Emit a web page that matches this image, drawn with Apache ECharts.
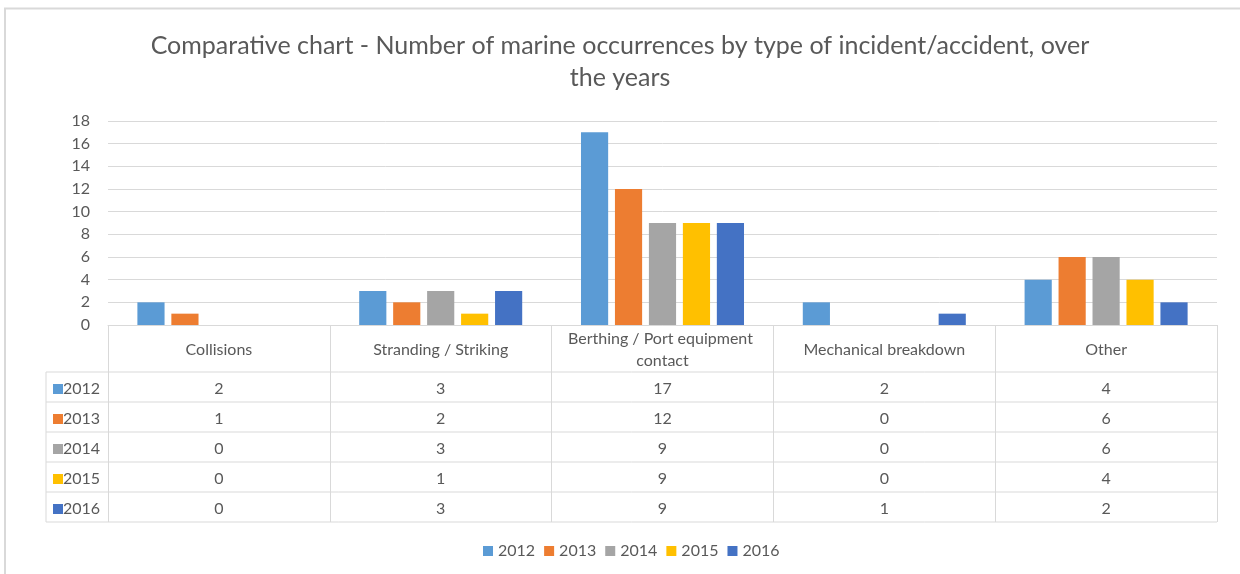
<!DOCTYPE html>
<html>
<head>
<meta charset="utf-8">
<script src="https://cdn.jsdelivr.net/npm/echarts@6/dist/echarts.min.js"></script>
<style>
  html, body { margin: 0; padding: 0; background: #ffffff; }
  #chart { width: 1240px; height: 574px; }
</style>
</head>
<body>
<div id="chart"></div>
<script>
// Incident categories and yearly counts
const categories = ['Collisions', 'Stranding / Striking', 'Berthing / Port equipment contact', 'Mechanical breakdown', 'Other'];
const years = ['2012', '2013', '2014', '2015', '2016'];
const v2012 = [2, 3, 17, 2, 4];
const v2013 = [1, 2, 12, 0, 6];
const v2014 = [0, 3, 9, 0, 6];
const v2015 = [0, 1, 9, 0, 4];
const v2016 = [0, 3, 9, 1, 2];
const yMin = 0, yMax = 18, yStep = 2;

const seriesValues = [v2012, v2013, v2014, v2015, v2016];
const colors = ['#5B9BD5', '#ED7D31', '#A5A5A5', '#FFC000', '#4472C4'];

const FONT = 'Lato, "Liberation Sans", sans-serif';
const TXT = '#595959';
const LINE = '#D9D9D9';
const FS = 16;
const W = 1240, H = 574;
const GRID = { left: 108, right: 23, top: 121, bottom: 249 };
const HEADER_H = 47, ROW_H = 30, KEY_LEFT = 46;
const plotBottom = H - GRID.bottom;
const plotRight = W - GRID.right;

// Category axis carries the header row; extra axes carry one data-table row each
const xAxes = [{
  type: 'category', data: categories, position: 'bottom',
  axisLine: { lineStyle: { color: LINE, width: 1 } },
  axisTick: { show: true, length: HEADER_H + ROW_H * years.length, lineStyle: { color: LINE, width: 1 } },
  axisLabel: {
    interval: 0, color: TXT, fontFamily: FONT, fontSize: FS, lineHeight: 22,
    margin: HEADER_H / 2 + 1, verticalAlign: 'middle', width: 205, overflow: 'break'
  }
}].concat(years.map((y, i) => ({
  type: 'category', data: categories, position: 'bottom',
  axisLine: { show: false }, axisTick: { show: false },
  axisLabel: {
    interval: 0, color: TXT, fontFamily: FONT, fontSize: FS,
    margin: HEADER_H + ROW_H * i + ROW_H / 2 + 2, verticalAlign: 'middle',
    formatter: (v, idx) => String(seriesValues[i][idx])
  }
})));

// Outer frame, table grid lines and row keys
const graphics = [];
graphics.push({
  type: 'rect', silent: true,
  shape: { x: 5, y: 8.5, width: W + 50, height: H + 50 },
  style: { fill: 'none', stroke: LINE, lineWidth: 2 }
});
for (let r = 0; r <= years.length; r++) {
  const y = plotBottom + HEADER_H + ROW_H * r;
  graphics.push({
    type: 'line', silent: true,
    shape: { x1: KEY_LEFT, y1: y, x2: plotRight, y2: y },
    style: { stroke: LINE, lineWidth: 1 }
  });
}
graphics.push({
  type: 'line', silent: true,
  shape: { x1: KEY_LEFT, y1: plotBottom + HEADER_H, x2: KEY_LEFT, y2: plotBottom + HEADER_H + ROW_H * years.length },
  style: { stroke: LINE, lineWidth: 1 }
});
years.forEach((y, i) => {
  const cy = plotBottom + HEADER_H + ROW_H * i + ROW_H / 2 + 2;
  graphics.push({
    type: 'rect', silent: true,
    shape: { x: 53, y: cy - 5, width: 10, height: 10 },
    style: { fill: colors[i] }
  });
  graphics.push({
    type: 'text', silent: true, x: 63, y: cy,
    style: { text: y, fill: TXT, font: FS + 'px ' + FONT, verticalAlign: 'middle', align: 'left' }
  });
});

const option = {
  animation: false,
  backgroundColor: '#ffffff',
  color: colors,
  title: {
    text: 'Comparative chart - Number of marine occurrences by type of incident/accident, over\nthe years',
    left: 'center', top: 25,
    textStyle: { fontFamily: FONT, fontSize: 25, fontWeight: 'normal', color: TXT, lineHeight: 32 }
  },
  legend: {
    data: years, left: 478, top: 538, icon: 'rect',
    itemWidth: 10, itemHeight: 10, itemGap: 9,
    textStyle: { fontFamily: FONT, fontSize: FS, color: TXT }
  },
  grid: GRID,
  xAxis: xAxes,
  yAxis: {
    type: 'value', min: yMin, max: yMax, interval: yStep,
    axisLine: { show: false }, axisTick: { show: false },
    axisLabel: { color: TXT, fontFamily: FONT, fontSize: FS, margin: 18 },
    splitLine: { lineStyle: { color: LINE, width: 1 } }
  },
  series: years.map((y, i) => ({
    name: y, type: 'bar', xAxisIndex: 0, yAxisIndex: 0,
    data: seriesValues[i],
    barGap: '25%', barCategoryGap: '26.5%',
    itemStyle: { color: colors[i] }
  })),
  graphic: graphics
};

const chart = echarts.init(document.getElementById('chart'));
chart.setOption(option);
</script>
</body>
</html>
